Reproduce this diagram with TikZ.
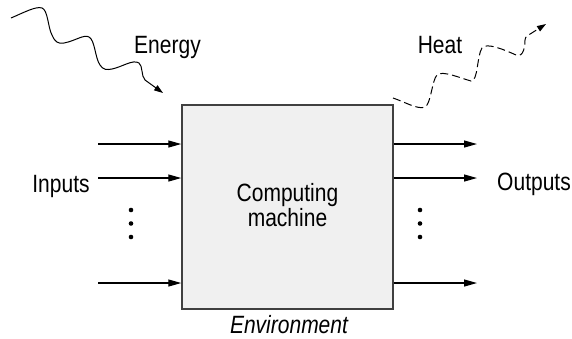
\documentclass[tikz,border=0pt]{standalone}
\usepackage{fontspec}
\setmainfont{Liberation Sans}[FakeStretch=0.84]
\usetikzlibrary{arrows.meta}
\begin{document}
\begin{tikzpicture}[x=1pt,y=-1pt,
  lbl/.style={font=\fontsize{25}{25}\selectfont, inner sep=0pt, anchor=base},
  flow/.style={line width=1.2pt, -{Triangle[length=13pt,width=7pt]}},
  wave/.style={line width=1pt, -{Triangle[length=9pt,width=6pt]}},
  dotmark/.style={circle, fill=black, inner sep=0pt, minimum size=4.6pt},
]
\useasboundingbox (0,0) rectangle (572,338);

% the machine
\node[draw=black!75, fill=black!6, line width=1.5pt,
      minimum width=211pt, minimum height=204pt, inner sep=0pt]
      (machine) at (287.5,207) {};
\node[lbl, align=center, anchor=center] (mlabel) at (287.5,204.6) {Computing\\machine};
\node[lbl, font=\fontsize{25}{25}\selectfont\itshape] (env) at (289,333) {Environment};

% inputs
\coordinate (i1) at (98,144);
\coordinate (i2) at (98,178);
\coordinate (i3) at (98,283);
\foreach \c in {i1,i2,i3}
  \draw[flow] (\c) -- (\c -| machine.west);
\node[lbl] (inputs) at (61,192) {Inputs};
\node[dotmark] (ld1) at (131,210) {};
\node[dotmark] (ld2) at (131,223.5) {};
\node[dotmark] (ld3) at (131,237) {};

% outputs
\coordinate (o1) at (477,144);
\coordinate (o2) at (477,178);
\coordinate (o3) at (477,283);
\foreach \c in {o1,o2,o3}
  \draw[flow] (\c -| machine.east) -- (\c);
\node[lbl] (outputs) at (534,190.5) {Outputs};
\node[dotmark] (rd1) at (420,210) {};
\node[dotmark] (rd2) at (420,223.5) {};
\node[dotmark] (rd3) at (420,237) {};

% energy coming in
\coordinate (esrc) at (11,18);
\coordinate (etip) at (163,93);
\draw[wave] (esrc)
  .. controls (25,12) and (36,6) .. (42,8)
  .. controls (48,10) and (48,28) .. (52,35)
  .. controls (55,42) and (58,44) .. (64,43)
  .. controls (75,41) and (84,34) .. (89,37)
  .. controls (95,40) and (95,58) .. (100,65)
  .. controls (103,70) and (107,70) .. (112,69)
  .. controls (122,67) and (133,59) .. (139,63)
  .. controls (143,66) and (141,76) .. (145,80)
  -- (etip);
\node[lbl] (energy) at (167.5,53) {Energy};

% heat going out
\coordinate (hsrc) at (393,98);
\coordinate (htip) at (546,24);
\draw[wave, dash pattern=on 8pt off 4pt] (hsrc)
  .. controls (405,102) and (418,110) .. (425,107)
  .. controls (431,104) and (432,80) .. (437,75)
  .. controls (442,70) and (460,78) .. (471,81)
  .. controls (478,82) and (477,55) .. (482,48)
  .. controls (486,42) and (505,50) .. (516,55)
  .. controls (524,58) and (525,45) .. (525,40)
  .. controls (525,38) and (526,37) .. (527,36)
  -- (htip);
\node[lbl] (heat) at (440,53) {Heat};
\end{tikzpicture}
\end{document}
